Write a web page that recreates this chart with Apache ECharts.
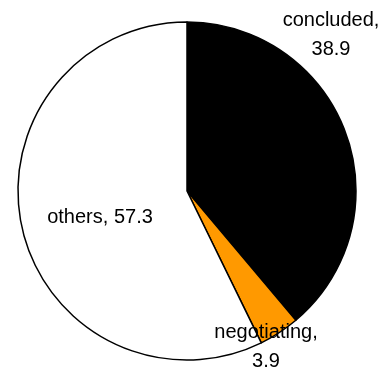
<!DOCTYPE html>
<html><head><meta charset="utf-8">
<script src="https://cdn.jsdelivr.net/npm/echarts@6/dist/echarts.min.js"></script>
<style>html,body{margin:0;padding:0;background:#fff}#c{width:387px;height:368px}</style>
</head><body><div id="c"></div>
<script>
const categories = ['concluded', 'negotiating', 'others'];
const values = [38.9, 3.9, 57.3];
const colors = ['#000000', '#FF9900', '#FFFFFF'];
const labelPos = [[331, 35], [266, 347], [100, 217]];
const labelFmt = ['{b},\n{c}', '{b},\n{c}', '{b}, {c}'];

const chart = echarts.init(document.getElementById('c'));
chart.setOption({
  animation: false,
  series: [{
    type: 'pie',
    center: [187, 191],
    radius: [0, 169],
    startAngle: 90,
    clockwise: true,
    data: categories.map((n, i) => ({
      name: n, value: values[i],
      itemStyle: { color: colors[i], borderColor: '#000', borderWidth: 1.5 },
      label: { formatter: labelFmt[i] }
    })),
    label: {
      show: true, position: 'inside',
      color: '#000', fontSize: 20, lineHeight: 29,
      fontFamily: '"Liberation Sans", Arial, sans-serif',
      align: 'center', verticalAlign: 'middle'
    },
    labelLine: { show: false },
    labelLayout: function (p) {
      const pos = labelPos[p.dataIndex];
      return { x: pos[0], y: pos[1], align: 'center', verticalAlign: 'middle' };
    },
    emphasis: { disabled: true }
  }]
});
</script></body></html>
